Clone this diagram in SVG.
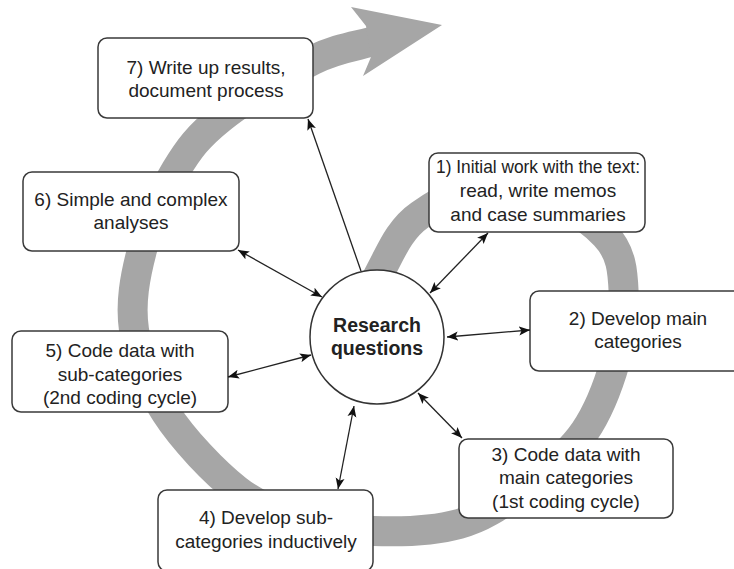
<svg xmlns="http://www.w3.org/2000/svg" width="734" height="569" viewBox="0 0 734 569">
<style>
.box{fill:#fff;stroke:#3a3a3a;stroke-width:1.5}
.t{font-family:"Liberation Sans",Arial,sans-serif;font-size:19px;fill:#222;text-anchor:middle}
.tb{font-family:"Liberation Sans",Arial,sans-serif;font-size:19.5px;font-weight:bold;fill:#222;text-anchor:middle}
.c{stroke:#222;stroke-width:1.3;fill:none}
.band{fill:none;stroke:#a6a6a6;stroke-width:30}
</style>
<defs>
<marker id="ah" markerUnits="userSpaceOnUse" markerWidth="12" markerHeight="10" refX="11" refY="4.5" orient="auto-start-reverse" viewBox="0 0 12 9">
<path d="M0,0 L11,4.5 L0,9 L2.5,4.5 z" fill="#111"/>
</marker>
</defs>
<g id="cycle-band">
<path class="band" d="M362,318 C368,302.7 370.3,289.2 380,272 C389.7,254.8 398.3,230 420,215 C441.7,200 479.2,178.7 510,182 C540.8,185.3 586,215.3 605,235 C624,254.7 622.8,277.2 624,300 C625.2,322.8 619.3,349 612,372 C604.7,395 595.3,418.2 580,438 C564.7,457.8 540.2,476.7 520,491 C499.8,505.3 483.5,517.3 459,524 C434.5,530.7 399.5,532 373,531 C346.5,530 322.7,524.8 300,518 C277.3,511.2 259.3,507.5 237,490 C214.7,472.5 183.2,439.7 166,413 C148.8,386.3 138,357.2 134,330 C130,302.8 135,276.7 142,250 C149,223.3 162.8,192 176,170 C189.2,148 198.2,136.3 221,118 C243.8,99.7 287.8,72.7 313,60 C338.2,47.3 358,46 378,40"/>
<polygon points="366,26 351,7 442,25 363,76 371,57" fill="#a6a6a6"/>
</g>
<g id="node-7">
<rect class="box" x="98" y="38" width="215" height="80" rx="9"/>
<text class="t" x="206" y="74">7) Write up results,</text>
<text class="t" x="206" y="97">document process</text>
</g>
<g id="node-1">
<rect class="box" x="429" y="153" width="216" height="79" rx="9"/>
<text class="t" x="538" y="173" textLength="204" lengthAdjust="spacingAndGlyphs">1) Initial work with the text:</text>
<text class="t" x="538" y="197">read, write memos</text>
<text class="t" x="538" y="221">and case summaries</text>
</g>
<g id="node-6">
<rect class="box" x="23" y="172" width="216" height="79" rx="9"/>
<text class="t" x="131" y="206">6) Simple and complex</text>
<text class="t" x="131" y="229">analyses</text>
</g>
<g id="node-2">
<rect class="box" x="530" y="291" width="216" height="80" rx="9"/>
<text class="t" x="638" y="325">2) Develop main</text>
<text class="t" x="638" y="348">categories</text>
</g>
<g id="node-5">
<rect class="box" x="12" y="331" width="216" height="81" rx="9"/>
<text class="t" x="120" y="357">5) Code data with</text>
<text class="t" x="120" y="381">sub-categories</text>
<text class="t" x="120" y="404">(2nd coding cycle)</text>
</g>
<g id="node-3">
<rect class="box" x="459" y="439" width="214" height="79" rx="9"/>
<text class="t" x="566" y="461">3) Code data with</text>
<text class="t" x="566" y="484">main categories</text>
<text class="t" x="566" y="508">(1st coding cycle)</text>
</g>
<g id="node-4">
<rect class="box" x="158" y="490" width="215" height="81" rx="9"/>
<text class="t" x="266" y="524">4) Develop sub-</text>
<text class="t" x="266" y="548">categories inductively</text>
</g>
<g id="node-center">
<circle cx="377" cy="337" r="67" fill="#fff" stroke="#333" stroke-width="1.5"/>
<text class="tb" x="377" y="332">Research</text>
<text class="tb" x="377" y="355">questions</text>
</g>
<g id="connectors">
<line class="c" x1="361" y1="271" x2="308" y2="119" marker-end="url(#ah)"/>
<line class="c" x1="430" y1="293" x2="488" y2="233" marker-start="url(#ah)" marker-end="url(#ah)"/>
<line class="c" x1="447" y1="337" x2="530" y2="330" marker-start="url(#ah)" marker-end="url(#ah)"/>
<line class="c" x1="418" y1="393" x2="462" y2="438" marker-start="url(#ah)" marker-end="url(#ah)"/>
<line class="c" x1="354" y1="406" x2="338" y2="489" marker-start="url(#ah)" marker-end="url(#ah)"/>
<line class="c" x1="311" y1="355" x2="228" y2="377" marker-start="url(#ah)" marker-end="url(#ah)"/>
<line class="c" x1="322" y1="297" x2="238" y2="250" marker-start="url(#ah)" marker-end="url(#ah)"/>
</g>
</svg>
